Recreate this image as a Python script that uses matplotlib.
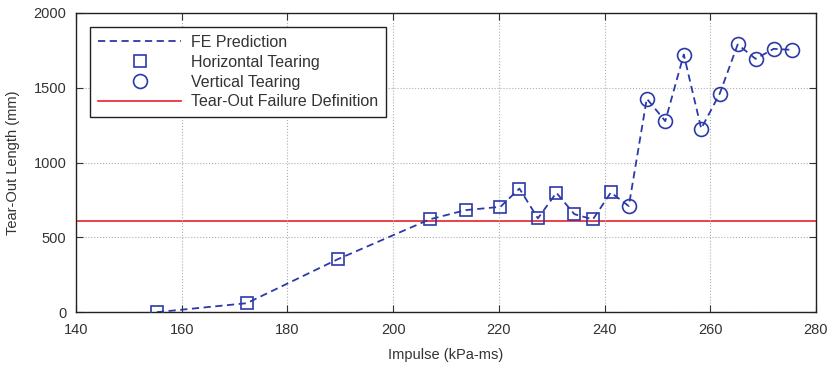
import matplotlib
matplotlib.use("Agg")
import matplotlib.pyplot as plt
from matplotlib.lines import Line2D

plt.rcParams["font.family"] = ["Liberation Sans", "DejaVu Sans"]

# impulse (kPa-ms) and tear-out length (mm)
horiz_x = [155.3, 172.3, 189.6, 206.9, 213.7, 220.3, 223.9, 227.4, 230.9, 234.3, 237.8, 241.2]
horiz_y = [0, 60, 355, 620, 682, 704, 826, 627, 798, 655, 620, 800]
vert_x = [244.6, 248.0, 251.5, 255.0, 258.3, 261.8, 265.2, 268.6, 272.0, 275.5]
vert_y = [709, 1427, 1277, 1722, 1227, 1460, 1789, 1693, 1760, 1753]
failure_len = 610

xticks = [140, 160, 180, 200, 220, 240, 260, 280]
yticks = [0, 500, 1000, 1500, 2000]

blue = "#2b3aa8"
red = "#e8212b"
txt = "#333333"

fig = plt.figure(figsize=(8.3, 3.69), dpi=100)
ax = fig.add_axes([0.0916, 0.154, 0.8914, 0.811])

ax.plot(horiz_x + vert_x, horiz_y + vert_y, "--", color=blue, lw=1.3,
        dashes=(4, 2.5), zorder=2)
ax.plot(horiz_x, horiz_y, "s", ms=9, mfc="none", mec=blue, mew=1.2, zorder=3)
ax.plot(vert_x, vert_y, "o", ms=10, mfc="none", mec=blue, mew=1.2, zorder=3)
ax.axhline(failure_len, color=red, lw=1.2, zorder=1)

ax.set_xlim(140, 280)
ax.set_ylim(0, 2000)
ax.set_xticks(xticks)
ax.set_yticks(yticks)
ax.grid(True, ls=":", color="#b0b0b0", lw=0.8)
ax.tick_params(direction="in", top=True, right=True, labelsize=10.5, colors=txt, length=5)
ax.tick_params(axis="x", pad=8)
ax.tick_params(axis="y", pad=7)
for s in ax.spines.values():
    s.set_color("#222222")
    s.set_linewidth(1.0)

ax.set_xlabel("Impulse (kPa-ms)", fontsize=10.5, color=txt, labelpad=8)
ax.set_ylabel("Tear-Out Length (mm)", fontsize=10.5, color=txt, labelpad=10)

handles = [
    Line2D([], [], ls="--", color=blue, lw=1.3, dashes=(4, 2.5)),
    Line2D([], [], ls="none", marker="s", ms=9, mfc="none", mec=blue, mew=1.2),
    Line2D([], [], ls="none", marker="o", ms=10, mfc="none", mec=blue, mew=1.2),
    Line2D([], [], color=red, lw=1.2),
]
labels = ["FE Prediction", "Horizontal Tearing", "Vertical Tearing",
          "Tear-Out Failure Definition"]
leg = ax.legend(handles, labels, loc="upper left", bbox_to_anchor=(0.019, 0.953),
                borderaxespad=0, fontsize=11.5, fancybox=False, framealpha=1,
                edgecolor="#222222", handlelength=5.2, handletextpad=0.6,
                labelspacing=0.3, borderpad=0.5)
leg.get_frame().set_linewidth(1.0)
for t in leg.get_texts():
    t.set_color(txt)

fig.savefig("out.png", dpi=100)
